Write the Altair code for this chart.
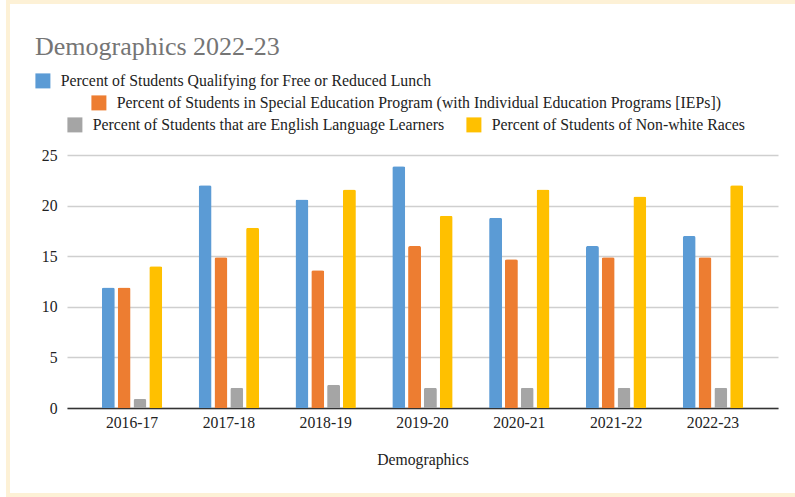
import altair as alt
import pandas as pd

years = ["2016-17", "2017-18", "2018-19", "2019-20", "2020-21", "2021-22", "2022-23"]
series = [
    "Percent of Students Qualifying for Free or Reduced Lunch",
    "Percent of Students in Special Education Program (with Individual Education Programs [IEPs])",
    "Percent of Students that are English Language Learners",
    "Percent of Students of Non-white Races",
]
free_lunch = [11.9, 22.0, 20.6, 23.9, 18.8, 16.0, 17.0]
special_ed = [11.9, 14.9, 13.6, 16.0, 14.7, 14.9, 14.9]
ell = [0.9, 2.0, 2.3, 2.0, 2.0, 2.0, 2.0]
nonwhite = [14.0, 17.8, 21.6, 19.0, 21.6, 20.9, 22.0]
y_ticks = [0, 5, 10, 15, 20, 25]

colors = ["#5B9BD5", "#ED7D31", "#A5A5A5", "#FFC000"]
values = [free_lunch, special_ed, ell, nonwhite]

FONT = "Liberation Serif"
PL, PT, W, H = 67, 155, 711, 253
# legend placement (relative to plot origin) for each series
legend_pos = [(-32, -82), (24, -60), (0, -38), (399, -38)]

layers = []
for i, name in enumerate(series):
    df = pd.DataFrame({"Year": years, "Series": name, "Value": values[i]})
    lx, ly = legend_pos[i]
    layers.append(
        alt.Chart(df)
        .mark_bar(cornerRadiusTopLeft=2, cornerRadiusTopRight=2)
        .encode(
            x=alt.X(
                "Year:N",
                sort=years,
                scale=alt.Scale(domain=years, paddingInner=0.376, paddingOuter=0.36),
                axis=alt.Axis(title="Demographics"),
            ),
            xOffset=alt.XOffset(
                "Series:N", sort=series, scale=alt.Scale(domain=series, paddingInner=0.18)
            ),
            y=alt.Y(
                "Value:Q",
                scale=alt.Scale(domain=[0, 25], nice=False),
                axis=alt.Axis(title=None, values=y_ticks),
            ),
            color=alt.Color(
                "Series:N",
                scale=alt.Scale(domain=[name], range=[colors[i]]),
                legend=alt.Legend(orient="none", legendX=lx, legendY=ly, title=None),
            ),
        )
    )

frame = (
    alt.Chart(pd.DataFrame({"f": [0]}))
    .mark_rect(fill="white", fillOpacity=0, stroke="#FDF1D6", strokeWidth=4)
    .encode(
        x=alt.value(-59), x2=alt.value(760), y=alt.value(-153), y2=alt.value(340)
    )
)

chart = (
    alt.layer(frame, *layers)
    .resolve_scale(color="independent")
    .properties(
        width=W,
        height=H,
        padding={"left": PL, "top": PT, "right": 795 - PL - W, "bottom": 497 - PT - H},
        autosize=alt.AutoSizeParams(type="none"),
        title=alt.TitleParams(
            "Demographics 2022-23",
            anchor="start",
            frame="group",
            fontSize=26,
            fontWeight="normal",
            color="#757575",
            dx=-32,
            dy=64,
        ),
        background="white",
    )
    .configure(font=FONT)
    .configure_view(stroke=None)
    .configure_axis(
        labelFont=FONT,
        labelFontSize=15.7,
        labelColor="#222222",
        titleFont=FONT,
        titleFontSize=15.7,
        titleFontWeight="normal",
        titleColor="#222222",
        ticks=False,
    )
    .configure_axisX(
        labelAngle=0,
        domainColor="#333333",
        domainWidth=1.5,
        labelPadding=7,
        titlePadding=23,
        grid=False,
    )
    .configure_axisY(
        domain=False,
        gridColor="#cfcfcf",
        gridWidth=1.5,
        labelPadding=10,
    )
    .configure_legend(
        padding=0,
        symbolType="square",
        symbolSize=225,
        symbolStrokeWidth=0,
        symbolOpacity=1,
        labelFont=FONT,
        labelFontSize=15.8,
        labelColor="#222222",
        labelOffset=10,
        labelLimit=900,
    )
    .configure_title(font=FONT)
)

chart.save("out.html", embed_options={"renderer": "svg", "actions": False})
